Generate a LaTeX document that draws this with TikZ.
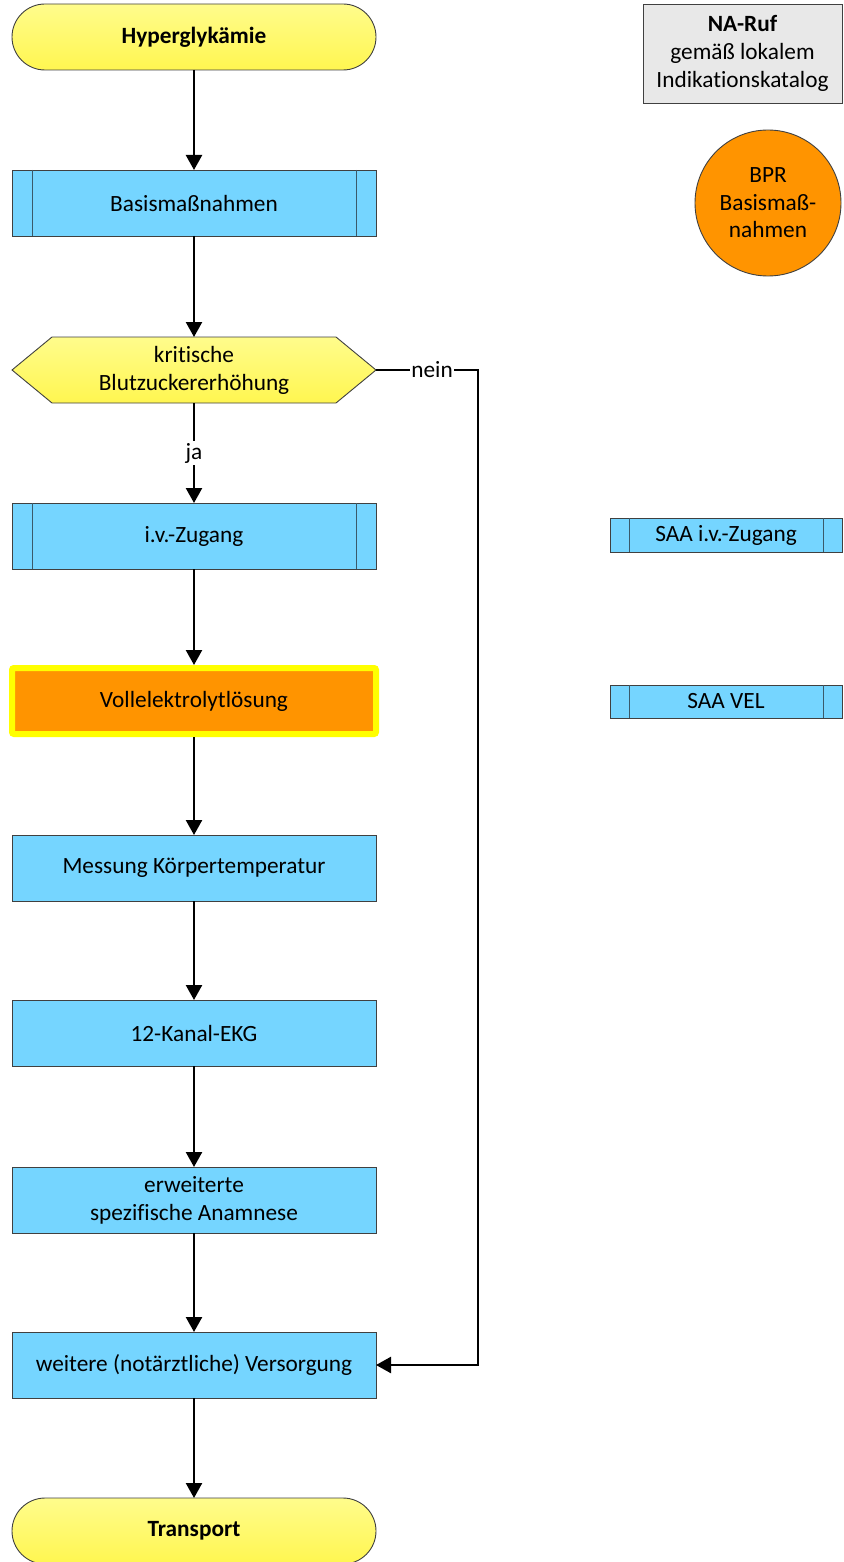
\documentclass[tikz,border=0pt]{standalone}
\usepackage{fontspec}
\setmainfont[Ligatures=NoCommon]{Carlito}
\usetikzlibrary{arrows.meta,calc,backgrounds}
\definecolor{fblue}{HTML}{75D5FF}
\definecolor{forange}{HTML}{FF9400}
\definecolor{fgray}{HTML}{E8E8E8}
\definecolor{ytop}{HTML}{FFFC8C}
\definecolor{ybot}{HTML}{FFF650}
\definecolor{vyellow}{HTML}{FFFF00}
\definecolor{lineC}{HTML}{404040}
\definecolor{innerC}{HTML}{3A5A6A}
\newcommand\predefbar[2]{%
  \draw[innerline] ($(#1.north west)+(#2,0)$) -- ($(#1.south west)+(#2,0)$);
  \draw[innerline] ($(#1.north east)+(-#2,0)$) -- ($(#1.south east)+(-#2,0)$);}
\begin{document}
\begin{tikzpicture}[x=1pt,y=-1pt,
  font=\fontsize{23.3}{28}\selectfont,
  base/.style={minimum width=364pt, minimum height=66pt, inner sep=0pt, align=center,
    draw=lineC, line width=0.9pt, outer sep=0pt},
  term/.style={base, rounded corners=33pt, top color=ytop, bottom color=ybot},
  proc/.style={base, fill=fblue},
  innerline/.style={draw=innerC, line width=0.9pt},
  arr/.style={line width=2.4pt, -{Triangle[length=15pt,width=16pt]}},
  lbl/.style={fill=white, inner sep=1.5pt}]
\useasboundingbox (0,0) rectangle (843,1562);

% main column
\node[term] (hyper) at (194,37) {\textbf{Hyperglykämie}};
\node[proc] (basis) at (194,203) {Basismaßnahmen};
\predefbar{basis}{20}
\node[base, draw=none] (hex) at (194,370) {kritische\\Blutzuckererhöhung};
\begin{scope}[on background layer]
\draw[draw=lineC, line width=0.9pt, top color=ytop, bottom color=ybot]
  (hex.west) -- ($(hex.north west)+(40,0)$) -- ($(hex.north east)+(-40,0)$)
  -- (hex.east) -- ($(hex.south east)+(-40,0)$) -- ($(hex.south west)+(40,0)$) -- cycle;
\end{scope}
\node[proc] (iv) at (194,536) {i.v.-Zugang};
\predefbar{iv}{20}
\node[base, line width=6pt, draw=vyellow, fill=forange,
  rounded corners=2pt, outer sep=3pt] (vel) at (194,701) {Vollelektrolytlösung};
\node[proc] (temp) at (194,868) {Messung Körpertemperatur};
\node[proc] (ekg) at (194,1033) {12-Kanal-EKG};
\node[proc] (anam) at (194,1200) {erweiterte\\spezifische Anamnese};
\node[proc] (vers) at (194,1365) {weitere (notärztliche) Versorgung};
\node[term] (trans) at (194,1531) {\textbf{Transport}};

% right column
\node[base, minimum width=199pt, minimum height=99pt, fill=fgray] (na) at (742.5,53.5)
  {\textbf{NA-Ruf}\\gemäß lokalem\\Indikationskatalog};
\node[circle, draw=lineC, line width=0.9pt, fill=forange, minimum size=146pt, inner sep=0pt,
  align=center, font=\fontsize{23.3}{27.5}\selectfont] (bpr) at (768,203) {BPR\\Basismaß-\\nahmen};
\node[base, minimum width=232pt, minimum height=34pt, fill=fblue] (saaiv) at (726,535) {SAA i.v.-Zugang};
\predefbar{saaiv}{19}
\node[base, minimum width=232pt, minimum height=33pt, fill=fblue] (saavel) at (726,701.5) {SAA VEL};
\predefbar{saavel}{19}

% connectors
\draw[arr] (hyper) -- (basis);
\draw[arr] (basis) -- (hex.north);
\draw[arr] (hex.south) -- node[lbl, pos=0.5] {ja} (iv.north);
\draw[arr] (iv) -- (vel);
\draw[arr] (vel) -- (temp);
\draw[arr] (temp) -- (ekg);
\draw[arr] (ekg) -- (anam);
\draw[arr] (anam) -- (vers);
\draw[arr] (vers) -- (trans);
\coordinate (c1) at (478,370);
\coordinate (c2) at (478,1365);
\draw[arr] (hex.east) -- node[lbl, pos=0.55] {nein} (c1) -- (c2) -- (vers.east);
\end{tikzpicture}
\end{document}
